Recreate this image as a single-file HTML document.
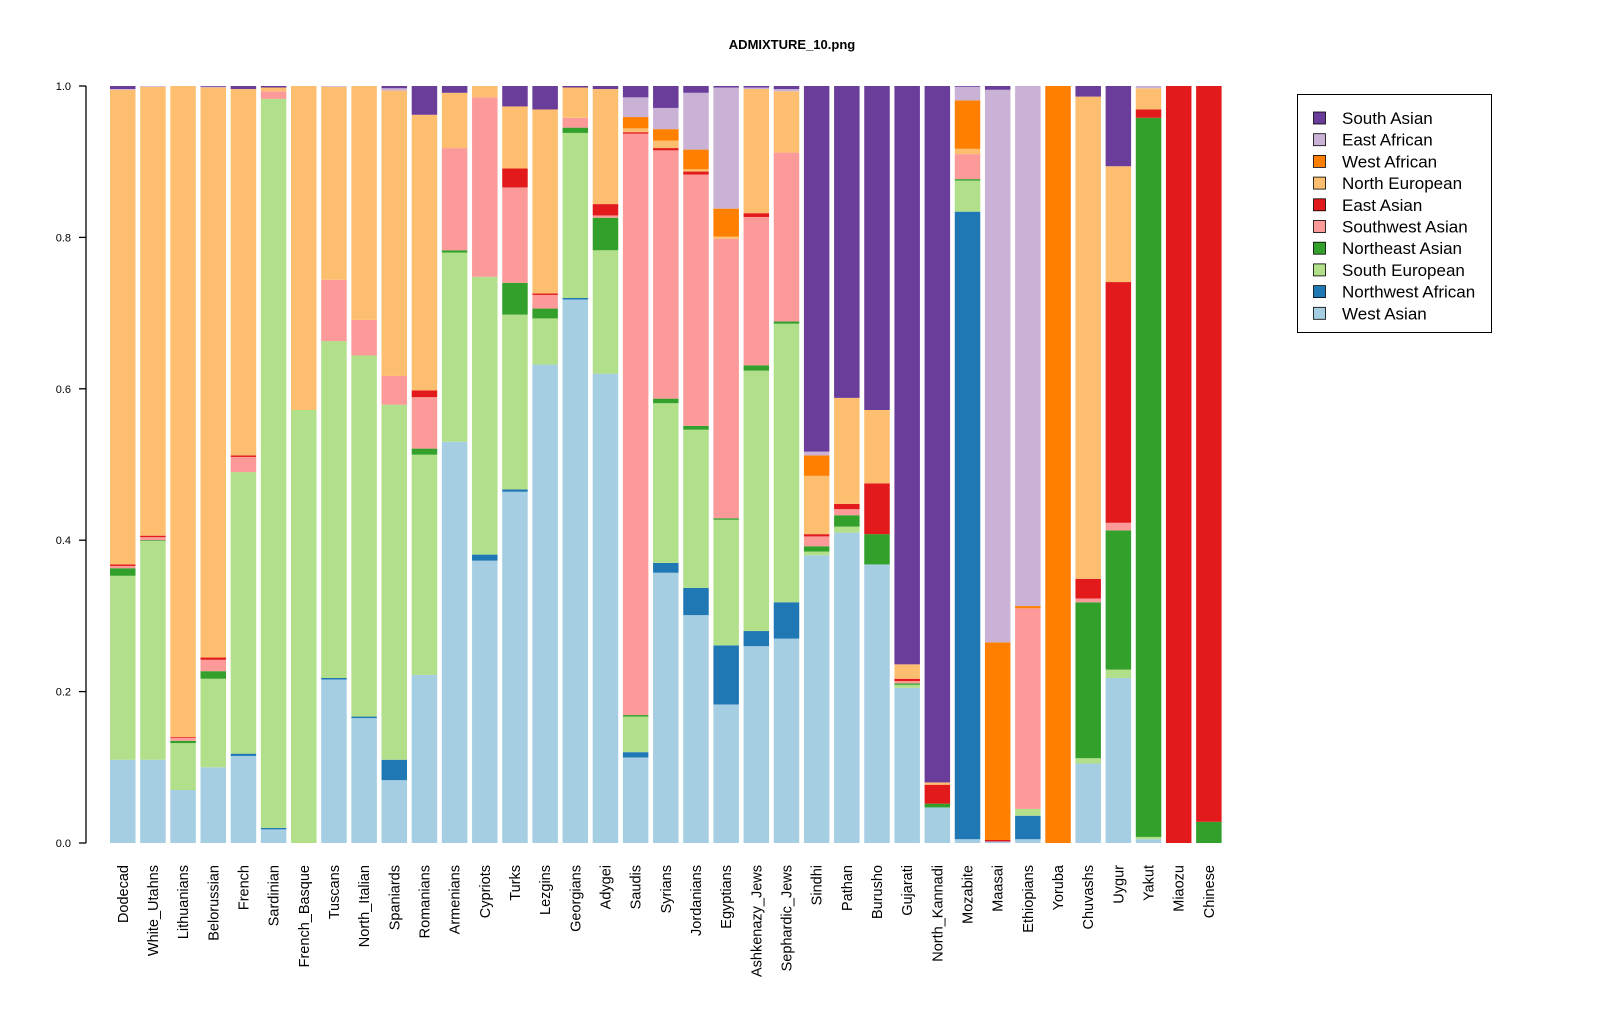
<!DOCTYPE html>
<html><head><meta charset="utf-8"><style>
body{margin:0;background:#fff;}
svg text{font-family:"Liberation Sans",Arial,sans-serif;}
</style></head><body>
<svg id="chart" width="1600" height="1024" xmlns="http://www.w3.org/2000/svg">
<rect width="1600" height="1024" fill="#fff"/>
<text x="792" y="49" font-size="13" font-weight="bold" text-anchor="middle">ADMIXTURE_10.png</text>
<g id="axis"></g><g id="bars"></g><g id="xlabels"></g><g id="legend"></g>
</svg>
<script>
const populations=["Dodecad","White_Utahns","Lithuanians","Belorussian","French","Sardinian","French_Basque","Tuscans","North_Italian","Spaniards","Romanians","Armenians","Cypriots","Turks","Lezgins","Georgians","Adygei","Saudis","Syrians","Jordanians","Egyptians","Ashkenazy_Jews","Sephardic_Jews","Sindhi","Pathan","Burusho","Gujarati","North_Kannadi","Mozabite","Maasai","Ethiopians","Yoruba","Chuvashs","Uygur","Yakut","Miaozu","Chinese"];
// component order bottom->top
const components=["West Asian","Northwest African","South European","Northeast Asian","Southwest Asian","East Asian","North European","West African","East African","South Asian"];
const colors=["#A6CEE3","#1F78B4","#B2DF8A","#33A02C","#FB9A99","#E31A1C","#FDBF6F","#FF7F00","#CAB2D6","#6A3D9A"];
const proportions=[
[0.11,0,0.243,0.01,0.003,0.002,0.627,0,0.001,0.004],
[0.11,0,0.289,0.001,0.004,0.002,0.593,0,0.001,0],
[0.07,0,0.062,0.003,0.004,0.001,0.86,0,0,0],
[0.10,0,0.117,0.01,0.015,0.003,0.753,0,0.001,0.001],
[0.115,0.003,0.372,0,0.02,0.002,0.484,0,0,0.004],
[0.018,0.002,0.963,0,0.01,0,0.005,0,0,0.002],
[0,0,0.572,0,0,0,0.428,0,0,0],
[0.216,0.002,0.445,0,0.081,0,0.255,0,0.001,0],
[0.165,0.002,0.477,0,0.047,0,0.309,0,0,0],
[0.083,0.027,0.469,0,0.038,0,0.377,0,0.003,0.003],
[0.222,0,0.291,0.008,0.068,0.009,0.364,0,0,0.038],
[0.53,0,0.25,0.003,0.135,0,0.073,0,0,0.009],
[0.373,0.008,0.367,0,0.237,0,0.015,0,0,0],
[0.464,0.003,0.231,0.042,0.126,0.025,0.082,0,0,0.027],
[0.632,0,0.061,0.013,0.018,0.002,0.243,0,0,0.031],
[0.718,0.002,0.218,0.007,0.013,0,0.04,0,0,0.002],
[0.62,0,0.163,0.043,0.003,0.015,0.152,0,0,0.004],
[0.113,0.007,0.047,0.002,0.768,0.002,0.005,0.015,0.026,0.015],
[0.357,0.013,0.211,0.006,0.328,0.003,0.01,0.015,0.028,0.029],
[0.301,0.036,0.209,0.005,0.332,0.004,0.003,0.026,0.075,0.009],
[0.183,0.078,0.166,0.002,0.369,0,0.003,0.037,0.16,0.002],
[0.26,0.02,0.344,0.007,0.196,0.005,0.164,0,0.002,0.002],
[0.27,0.048,0.368,0.003,0.223,0,0.081,0,0.003,0.004],
[0.38,0,0.005,0.007,0.013,0.003,0.077,0.027,0.005,0.483],
[0.41,0,0.008,0.015,0.008,0.007,0.14,0,0,0.412],
[0.368,0,0,0.04,0,0.067,0.097,0,0,0.428],
[0.205,0,0.004,0.002,0.003,0.003,0.019,0,0,0.764],
[0.047,0,0,0.005,0,0.025,0.003,0,0,0.92],
[0.005,0.829,0.041,0.002,0.033,0,0.007,0.064,0.018,0.001],
[0.002,0,0,0,0,0.002,0,0.261,0.73,0.005],
[0.005,0.031,0.009,0,0.265,0,0,0.003,0.687,0],
[0,0,0,0,0,0,0,1,0,0],
[0.105,0,0.007,0.206,0.005,0.026,0.637,0,0,0.014],
[0.218,0,0.011,0.184,0.01,0.318,0.153,0,0,0.106],
[0.005,0,0.003,0.95,0,0.011,0.028,0,0.003,0],
[0,0,0,0,0,1,0,0,0,0],
[0,0,0,0.028,0,0.972,0,0,0,0]
];
const yTicks=["0.0","0.2","0.4","0.6","0.8","1.0"];
const NS="http://www.w3.org/2000/svg";
const y0=843,y1=86,x0=110,step=30.17,bw=25.5;
const yScale=v=>y0-(y0-y1)*v;
const xScale=i=>x0+i*step;
function mk(tag,attrs,parent){const e=document.createElementNS(NS,tag);for(const k in attrs)e.setAttribute(k,attrs[k]);parent.appendChild(e);return e;}
const axis=document.getElementById('axis');
const axl=mk('line',{x1:86,x2:86,y1:y1,y2:y0,stroke:'#000','stroke-width':1.3},axis);


yTicks.forEach(t=>{const v=parseFloat(t);const y=yScale(v);
 const tk=mk('line',{x1:79,x2:86,y1:y,y2:y,stroke:'#000','stroke-width':1.3},axis);
 
 
 const tx=mk('text',{x:71,y:y+4,'font-size':11,'text-anchor':'end'},axis);tx.textContent=t;
 
 
});
const bars=document.getElementById('bars');const xl=document.getElementById('xlabels');
populations.forEach((p,i)=>{
 const row=proportions[i];const tot=row.reduce((a,b)=>a+b,0);let cum=0;
 const g=mk('g',{},bars);
 
 
 row.forEach((v,j)=>{if(v<=0)return;const a=cum/tot,b=(cum+v)/tot;cum+=v;
  const r=mk('rect',{x:xScale(i),y:yScale(b),width:bw,height:yScale(a)-yScale(b),fill:colors[j]},g);
  
  
 });
 const cx=xScale(i)+bw/2+5;
 const t=mk('text',{x:0,y:0,'font-size':14.5,'text-anchor':'end',transform:`translate(${cx},865) rotate(-90)`},xl);
 t.textContent=p;
 
 
});
const lg=document.getElementById('legend');
const box=mk('rect',{x:1297.5,y:94.5,width:194,height:238,fill:'#fff',stroke:'#000','stroke-width':1},lg);


for(let k=0;k<10;k++){const j=9-k;const y=118+k*21.7;
 const g=mk('g',{},lg);
 
 
 mk('rect',{x:1313.5,y:y-6,width:12,height:12,fill:colors[j],stroke:'#000','stroke-width':0.8},g);
 const t=mk('text',{x:1342,y:y+6,'font-size':17},g);t.textContent=components[j];
}
</script>
</body></html>
